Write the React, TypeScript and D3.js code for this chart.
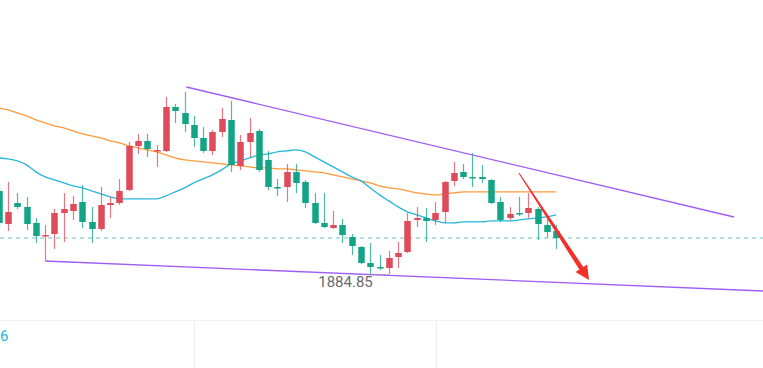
import React, {useEffect, useRef} from "react";
import * as d3 from "d3";

// candles: open / close / high / low, one entry per bar
const opens = [1926.85, 1910.35, 1920.85, 1918.85, 1910.85, 1904.35, 1905.35, 1915.85, 1916.85, 1921.35,
    1911.35, 1907.85, 1919.85, 1920.85, 1927.35, 1949.35, 1951.85, 1946.85, 1946.85, 1968.85,
    1965.85, 1959.85, 1953.35, 1946.85, 1956.35, 1962.35, 1939.35, 1951.35, 1956.85, 1942.35,
    1928.85, 1928.85, 1936.35, 1931.35, 1920.85, 1910.85, 1908.35, 1909.85, 1903.85, 1898.85,
    1890.85, 1888.85, 1888.35, 1893.85, 1896.35, 1912.35, 1913.35, 1912.35, 1916.35, 1931.85,
    1936.35, 1933.85, 1933.85, 1932.35, 1921.35, 1913.35, 1915.85, 1915.85, 1917.85, 1909.85, 1906.85];
const closes = [1910.85, 1916.35, 1918.85, 1910.35, 1904.35, 1904.85, 1915.85, 1917.85, 1920.35, 1911.35,
    1907.85, 1919.85, 1920.85, 1926.85, 1949.35, 1951.85, 1947.85, 1947.35, 1968.85, 1966.85,
    1960.35, 1953.35, 1946.85, 1956.35, 1962.85, 1939.85, 1951.35, 1955.85, 1937.35, 1928.85,
    1928.35, 1936.35, 1930.85, 1920.85, 1910.85, 1908.85, 1909.85, 1904.85, 1899.35, 1890.85,
    1888.85, 1888.35, 1893.35, 1895.85, 1911.85, 1913.35, 1911.85, 1915.85, 1931.35, 1935.85,
    1933.85, 1933.35, 1932.85, 1920.85, 1912.35, 1915.35, 1915.35, 1918.35, 1910.35, 1906.35, 1903.35];
const highs = [1929.85, 1931.35, 1925.85, 1923.85, 1913.35, 1909.85, 1917.85, 1925.85, 1924.35, 1929.85,
    1918.85, 1928.85, 1923.85, 1932.85, 1951.35, 1955.35, 1955.35, 1949.85, 1973.85, 1970.35,
    1976.35, 1964.35, 1958.85, 1957.35, 1968.35, 1971.85, 1954.85, 1963.35, 1957.85, 1946.85,
    1932.85, 1940.35, 1940.35, 1932.35, 1925.85, 1925.85, 1916.85, 1912.85, 1905.35, 1899.35,
    1900.85, 1894.85, 1896.85, 1901.35, 1915.85, 1918.85, 1918.35, 1921.35, 1931.85, 1941.35,
    1940.35, 1945.85, 1939.85, 1932.85, 1923.85, 1918.85, 1923.85, 1925.85, 1918.85, 1912.85, 1909.85];
const lows = [1908.35, 1906.85, 1917.85, 1907.35, 1900.85, 1892.35, 1897.85, 1901.35, 1912.35, 1908.35,
    1900.85, 1906.85, 1913.35, 1919.85, 1926.85, 1945.35, 1943.85, 1938.85, 1946.35, 1960.85,
    1956.35, 1948.85, 1945.85, 1944.85, 1953.85, 1936.35, 1937.35, 1943.85, 1936.35, 1927.35,
    1924.35, 1921.35, 1925.85, 1918.35, 1910.35, 1908.35, 1907.85, 1900.85, 1894.85, 1890.35,
    1884.85, 1887.35, 1885.35, 1888.35, 1895.85, 1908.85, 1901.35, 1909.85, 1910.85, 1929.35,
    1932.85, 1928.85, 1930.85, 1920.35, 1911.35, 1912.35, 1914.35, 1913.35, 1902.35, 1903.35, 1897.85];

// moving averages
const maFast = [1943.4, 1942.9, 1941.9, 1939.9, 1936.4, 1933.9, 1932.4, 1930.9, 1929.4, 1928.4,
    1926.9, 1925.4, 1923.9, 1922.9, 1922.9, 1922.9, 1922.9, 1922.9, 1924.4, 1926.4,
    1928.4, 1930.9, 1932.9, 1934.9, 1937.4, 1940.4, 1941.9, 1943.4, 1944.9, 1945.4,
    1946.4, 1946.9, 1947.4, 1946.4, 1943.9, 1941.4, 1938.9, 1936.4, 1933.9, 1931.9,
    1928.4, 1924.9, 1921.9, 1918.9, 1916.4, 1914.9, 1913.4, 1911.9, 1910.9, 1910.9,
    1911.4, 1911.4, 1911.4, 1911.9, 1911.9, 1911.9, 1912.4, 1912.9, 1913.4, 1913.9, 1914.9];
const maSlow = [1968.4, 1967.4, 1965.9, 1964.4, 1962.4, 1960.9, 1959.4, 1958.4, 1956.9, 1955.4,
    1954.4, 1953.4, 1951.9, 1950.9, 1949.4, 1948.4, 1947.4, 1946.4, 1944.9, 1943.4,
    1942.4, 1941.9, 1941.4, 1940.9, 1940.4, 1939.9, 1939.4, 1938.9, 1938.4, 1938.4,
    1937.9, 1937.9, 1937.4, 1936.9, 1936.4, 1935.9, 1934.9, 1933.9, 1932.9, 1931.9,
    1930.9, 1929.4, 1928.4, 1927.9, 1926.9, 1925.9, 1925.4, 1924.9, 1925.4, 1925.9,
    1926.4, 1926.4, 1926.4, 1926.4, 1926.4, 1926.4, 1926.4, 1926.4, 1926.4, 1926.4, 1926.4];

// drawings (bar index, price)
const upperTrend = [[20.2, 1978.85], [79.15, 1913.85]];
const lowerTrend = [[5, 1891.85], [82.3, 1876.85]];
const arrowPts = [[56.0, 1935.85], [63.54, 1882.35]];
const lastPrice = 1903.35;
const lowLabel = "1884.85";
const lowIndex = 40;
const axisLabel = "6";

const W = 763;
const H = 368;

const App = () => {
    const ref = useRef(null);

    useEffect(() => {
        const svg = d3.select(ref.current);
        svg.selectAll("*").remove();

        const x = d3.scaleLinear().domain([0, 60]).range([-1.3, 556.1]);
        const y = d3.scaleLinear().domain([1838.35, 2022.35]).range([368, 0]);

        const up = "#de4b5a";
        const down = "#13a487";

        // bottom time axis area
        svg.append("line").attr("x1", 0).attr("x2", W).attr("y1", 320.5).attr("y2", 320.5)
            .attr("stroke", "#eef0f5");
        [194.5, 436.5].forEach(gx => {
            svg.append("line").attr("x1", gx).attr("x2", gx).attr("y1", 321).attr("y2", H)
                .attr("stroke", "#eceef2");
        });
        svg.append("text").attr("x", 0).attr("y", 341).text(axisLabel)
            .attr("font-family", "Roboto, sans-serif").attr("font-size", 15).attr("fill", "#22b7d9");

        // last price dashed
        svg.append("line").attr("x1", 0).attr("x2", W)
            .attr("y1", y(lastPrice)).attr("y2", y(lastPrice))
            .attr("stroke", "#9ddcce").attr("stroke-width", 1.5).attr("stroke-dasharray", "4,4");

        const idx = d3.range(opens.length);

        // moving averages
        const line = d3.line().x((d, i) => x(i)).y(d => y(d)).curve(d3.curveMonotoneX);
        svg.append("path").attr("d", line(maSlow)).attr("fill", "none")
            .attr("stroke", "#ff9a3d").attr("stroke-width", 1.3);
        svg.append("path").attr("d", line(maFast)).attr("fill", "none")
            .attr("stroke", "#27b6db").attr("stroke-width", 1.3);

        // candles
        const g = svg.append("g");
        const bw = 6.5;
        idx.forEach(i => {
            const isUp = closes[i] >= opens[i];
            const c = isUp ? up : down;
            const cx = Math.round(x(i)) + 0.5;
            g.append("line").attr("x1", cx).attr("x2", cx)
                .attr("y1", y(highs[i])).attr("y2", y(lows[i]))
                .attr("stroke", c).attr("stroke-opacity", 0.75).attr("stroke-width", 1.2);
            const top = y(Math.max(opens[i], closes[i]));
            const bot = y(Math.min(opens[i], closes[i]));
            g.append("rect").attr("x", cx - bw / 2).attr("y", top)
                .attr("width", bw).attr("height", Math.max(1.5, bot - top))
                .attr("fill", c);
        });

        // trend lines
        [upperTrend, lowerTrend].forEach(t => {
            svg.append("line")
                .attr("x1", x(t[0][0])).attr("y1", y(t[0][1]))
                .attr("x2", x(t[1][0])).attr("y2", y(t[1][1]))
                .attr("stroke", "#a05cf7").attr("stroke-width", 1.3);
        });

        // low label
        svg.append("line").attr("x1", x(lowIndex) + 2).attr("x2", x(lowIndex) + 20)
            .attr("y1", y(lows[lowIndex]) - 0.5).attr("y2", y(lows[lowIndex]) - 0.5)
            .attr("stroke", "#888").attr("stroke-dasharray", "1,2");
        svg.append("text").attr("x", x(lowIndex) + 2.5).attr("y", y(lows[lowIndex]) + 12)
            .attr("text-anchor", "end").text(lowLabel)
            .attr("font-family", "Roboto, sans-serif").attr("font-size", 15).attr("fill", "#666a70");

        // red arrow, thin at start and thicker toward the head
        const ax1 = x(arrowPts[0][0]), ay1 = y(arrowPts[0][1]);
        const ax2 = x(arrowPts[1][0]), ay2 = y(arrowPts[1][1]);
        const dx = ax2 - ax1, dy = ay2 - ay1;
        const len = Math.hypot(dx, dy);
        const ux = dx / len, uy = dy / len;
        const nx = -uy, ny = ux;
        const headLen = 14, headW = 7, w0 = 0.5, w1 = 2.4;
        const bx = ax2 - ux * headLen, by = ay2 - uy * headLen;
        const pts = [
            [ax1 + nx * w0, ay1 + ny * w0],
            [bx + nx * w1, by + ny * w1],
            [bx + nx * headW, by + ny * headW],
            [ax2, ay2],
            [bx - nx * headW, by - ny * headW],
            [bx - nx * w1, by - ny * w1],
            [ax1 - nx * w0, ay1 - ny * w0],
        ];
        svg.append("polygon").attr("points", pts.map(p => p.join(",")).join(" "))
            .attr("fill", "#f5302c");
    }, []);

    return (
        <svg ref={ref} width={W} height={H}
             style={{position: "fixed", left: 0, top: 0, background: "#fff"}}/>
    );
};

export default App;
